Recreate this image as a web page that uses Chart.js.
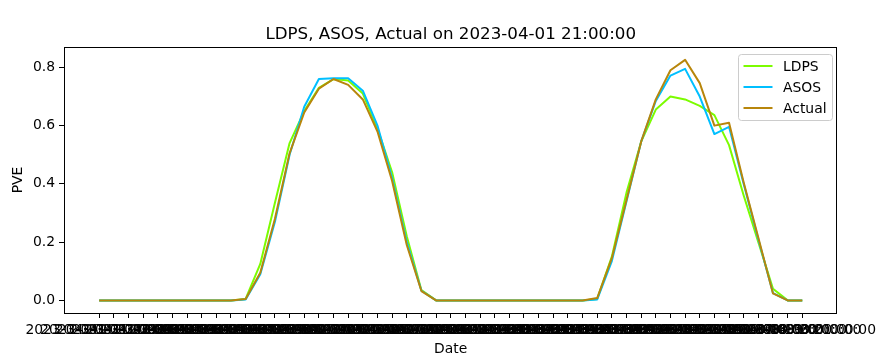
<!DOCTYPE html>
<html>
<head>
<meta charset="utf-8">
<script src="https://cdn.jsdelivr.net/npm/chart.js@4"></script>
<style>
  html, body { margin: 0; padding: 0; background: #fff; }
  #wrap { width: 882px; height: 361px; }
</style>
</head>
<body>
<div id="wrap"><canvas id="pve-chart" width="882" height="361"></canvas></div>
<script>
// ---- DATA ----
const dateLabels = [
  '2023-04-01 21:00:00', '2023-04-01 22:00:00', '2023-04-01 23:00:00',
  '2023-04-02 00:00:00', '2023-04-02 01:00:00', '2023-04-02 02:00:00',
  '2023-04-02 03:00:00', '2023-04-02 04:00:00', '2023-04-02 05:00:00',
  '2023-04-02 06:00:00', '2023-04-02 07:00:00', '2023-04-02 08:00:00',
  '2023-04-02 09:00:00', '2023-04-02 10:00:00', '2023-04-02 11:00:00',
  '2023-04-02 12:00:00', '2023-04-02 13:00:00', '2023-04-02 14:00:00',
  '2023-04-02 15:00:00', '2023-04-02 16:00:00', '2023-04-02 17:00:00',
  '2023-04-02 18:00:00', '2023-04-02 19:00:00', '2023-04-02 20:00:00',
  '2023-04-02 21:00:00', '2023-04-02 22:00:00', '2023-04-02 23:00:00',
  '2023-04-03 00:00:00', '2023-04-03 01:00:00', '2023-04-03 02:00:00',
  '2023-04-03 03:00:00', '2023-04-03 04:00:00', '2023-04-03 05:00:00',
  '2023-04-03 06:00:00', '2023-04-03 07:00:00', '2023-04-03 08:00:00',
  '2023-04-03 09:00:00', '2023-04-03 10:00:00', '2023-04-03 11:00:00',
  '2023-04-03 12:00:00', '2023-04-03 13:00:00', '2023-04-03 14:00:00',
  '2023-04-03 15:00:00', '2023-04-03 16:00:00', '2023-04-03 17:00:00',
  '2023-04-03 18:00:00', '2023-04-03 19:00:00', '2023-04-03 20:00:00',
  '2023-04-03 21:00:00'
];

const ldps = [
  0, 0, 0, 0, 0, 0, 0, 0, 0, 0,
  0.005, 0.125, 0.335, 0.54, 0.65, 0.73, 0.76, 0.755, 0.71, 0.59,
  0.44, 0.22, 0.035, 0, 0, 0, 0, 0, 0, 0,
  0, 0, 0, 0, 0.005, 0.15, 0.37, 0.545, 0.655, 0.70,
  0.69, 0.668, 0.636, 0.533, 0.36, 0.20, 0.04, 0, 0
];

const asos = [
  0, 0, 0, 0, 0, 0, 0, 0, 0, 0,
  0.003, 0.09, 0.27, 0.50, 0.665, 0.76, 0.763, 0.763, 0.72, 0.60,
  0.42, 0.20, 0.033, 0, 0, 0, 0, 0, 0, 0,
  0, 0, 0, 0, 0.003, 0.135, 0.34, 0.545, 0.685, 0.772,
  0.795, 0.70, 0.571, 0.596, 0.40, 0.21, 0.025, 0, 0
];

const actual = [
  0, 0, 0, 0, 0, 0, 0, 0, 0, 0,
  0.005, 0.095, 0.28, 0.505, 0.645, 0.727, 0.76, 0.74, 0.69, 0.58,
  0.41, 0.19, 0.032, 0, 0, 0, 0, 0, 0, 0,
  0, 0, 0, 0, 0.008, 0.145, 0.345, 0.545, 0.69, 0.79,
  0.826, 0.746, 0.60, 0.61, 0.405, 0.215, 0.024, 0, 0
];

const yTicks = [0, 0.2, 0.4, 0.6, 0.8];

const FONT = "'DejaVu Sans', 'Liberation Sans', sans-serif";

// matplotlib-like frame, title and in-axes legend
const mplDecor = {
  id: 'mplDecor',
  afterDraw(chart) {
    const { ctx, chartArea: a } = chart;
    ctx.save();

    // frame
    ctx.strokeStyle = '#000';
    ctx.lineWidth = 1;
    ctx.strokeRect(Math.round(a.left) + 0.5, Math.round(a.top) + 0.5,
      Math.round(a.right - a.left) - 1, Math.round(a.bottom - a.top));

    // title
    ctx.fillStyle = '#000';
    ctx.font = '16.7px ' + FONT;
    ctx.textAlign = 'center';
    ctx.textBaseline = 'middle';
    ctx.fillText('LDPS, ASOS, Actual on 2023-04-01 21:00:00', (a.left + a.right) / 2, 35);

    // legend box
    const bx = 738.5, by = 54.5, bw = 94, bh = 66, r = 3;
    ctx.beginPath();
    ctx.moveTo(bx + r, by);
    ctx.arcTo(bx + bw, by, bx + bw, by + bh, r);
    ctx.arcTo(bx + bw, by + bh, bx, by + bh, r);
    ctx.arcTo(bx, by + bh, bx, by, r);
    ctx.arcTo(bx, by, bx + bw, by, r);
    ctx.closePath();
    ctx.fillStyle = 'rgba(255,255,255,0.8)';
    ctx.fill();
    ctx.strokeStyle = '#cccccc';
    ctx.stroke();

    ctx.font = '13.9px ' + FONT;
    ctx.textAlign = 'left';
    chart.data.datasets.forEach((ds, i) => {
      const y = 66 + i * 21;
      ctx.strokeStyle = ds.borderColor;
      ctx.lineWidth = 2;
      ctx.beginPath();
      ctx.moveTo(743.5, y);
      ctx.lineTo(772.5, y);
      ctx.stroke();
      ctx.fillStyle = '#000';
      ctx.fillText(ds.label, 783, y + 1);
    });

    ctx.restore();
  }
};

const mkSeries = arr => arr.map((v, i) => ({ x: i, y: v }));

new Chart(document.getElementById('pve-chart'), {
  type: 'line',
  data: {
    datasets: [
      { label: 'LDPS',   data: mkSeries(ldps),   borderColor: '#7CFC00', order: 3 },
      { label: 'ASOS',   data: mkSeries(asos),   borderColor: '#00BFFF', order: 2 },
      { label: 'Actual', data: mkSeries(actual), borderColor: '#B8860B', order: 1 }
    ]
  },
  options: {
    responsive: false,
    animation: false,
    devicePixelRatio: 1,
    layout: { padding: { left: 0, right: 43, top: 47, bottom: 0 } },
    elements: {
      line: { borderWidth: 2, tension: 0, fill: false, borderJoinStyle: 'round' },
      point: { radius: 0 }
    },
    plugins: {
      legend: { display: false },
      title: { display: false },
      tooltip: { enabled: false }
    },
    scales: {
      x: {
        type: 'linear',
        min: -2.4,
        max: dateLabels.length - 1 + 2.4,
        afterBuildTicks: axis => { axis.ticks = dateLabels.map((_, i) => ({ value: i })); },
        afterFit: axis => { axis.height = 48; },
        grid: { drawOnChartArea: false, drawTicks: true, tickLength: 5, color: '#000' },
        border: { display: false },
        ticks: {
          autoSkip: false,
          maxRotation: 0,
          minRotation: 0,
          padding: 4,
          color: '#000',
          font: { family: FONT, size: 13.9 },
          callback: v => dateLabels[v]
        },
        title: {
          display: true,
          text: 'Date',
          color: '#000',
          font: { family: FONT, size: 13.9 },
          padding: { top: 0, bottom: 3 }
        }
      },
      y: {
        min: -0.0433,
        max: 0.870,
        afterBuildTicks: axis => { axis.ticks = yTicks.map(v => ({ value: v })); },
        afterFit: axis => { axis.width = 64; },
        grid: { drawOnChartArea: false, drawTicks: true, tickLength: 5, color: '#000' },
        border: { display: false },
        ticks: {
          padding: 4,
          color: '#000',
          font: { family: FONT, size: 13.9 },
          callback: v => v.toFixed(1)
        },
        title: {
          display: true,
          text: 'PVE',
          color: '#000',
          font: { family: FONT, size: 13.9 },
          padding: { top: 10, bottom: 0 }
        }
      }
    }
  },
  plugins: [mplDecor]
});
</script>
</body>
</html>
